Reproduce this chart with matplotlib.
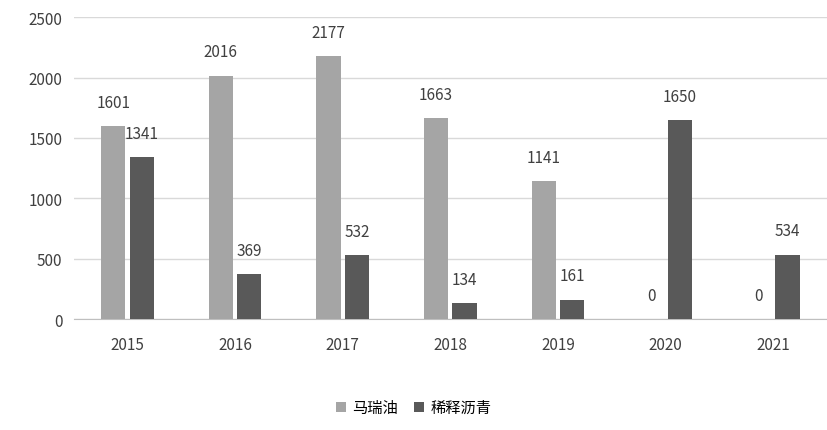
import matplotlib
matplotlib.use("Agg")
import matplotlib.pyplot as plt
import numpy as np

plt.rcParams['font.family'] = ['Noto Sans CJK SC', 'DejaVu Sans']

years = ["2015", "2016", "2017", "2018", "2019", "2020", "2021"]
mary = [1601, 2016, 2177, 1663, 1141, 0, 0]
bitumen = [1341, 369, 532, 134, 161, 1650, 534]
names = ["马瑞油", "稀释沥青"]

fig = plt.figure(figsize=(8.27, 4.31), dpi=100)
ax = fig.add_axes([0.089, 0.2575, 0.911, 0.70])
x = np.arange(len(years))
w = 0.225
b1 = ax.bar(x - w/2 - 0.02, mary, w, color="#A5A5A5", label=names[0], zorder=3)
b2 = ax.bar(x + w/2 + 0.02, bitumen, w, color="#595959", label=names[1], zorder=3)
for bars in (b1, b2):
    for r in bars:
        ax.annotate(f"{int(r.get_height())}", (r.get_x() + r.get_width()/2, r.get_height()),
                    xytext=(0, 11), textcoords="offset points", ha="center", va="bottom",
                    fontsize=11, color="#404040")
ax.set_xlim(-0.5, len(years) - 0.5)
ax.set_ylim(0, 2500)
ax.set_yticks(range(0, 2501, 500))
ax.set_xticks(x)
ax.set_xticklabels(years)
ax.tick_params(axis="both", length=0, labelsize=11, colors="#404040", pad=12)
ax.tick_params(axis="y", pad=8)
ax.grid(axis="y", color="#D9D9D9", lw=1, zorder=0)
for s in ["top", "right", "left"]:
    ax.spines[s].set_visible(False)
ax.spines["bottom"].set_color("#BFBFBF")
fig.legend(loc="lower center", bbox_to_anchor=(0.5, 0.0), ncol=2, frameon=False,
           fontsize=11, handlelength=0.7, handleheight=0.7, columnspacing=1.0, handletextpad=0.4)
fig.savefig("out.png", dpi=100)
